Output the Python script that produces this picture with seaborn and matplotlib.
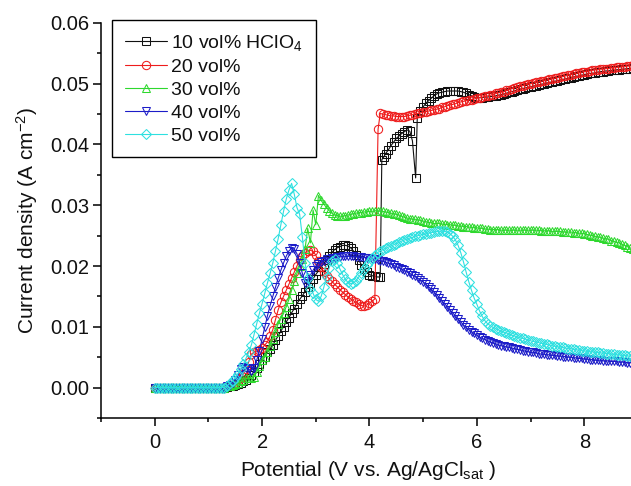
import matplotlib
matplotlib.use("Agg")
import matplotlib.pyplot as plt
import seaborn as sns
import pandas as pd

# Potential grid shared by the smooth curves (V vs. Ag/AgCl_sat), 0.05 V steps
potential = [
    0.00, 0.05, 0.10, 0.15, 0.20, 0.25, 0.30, 0.35, 0.40, 0.45,
    0.50, 0.55, 0.60, 0.65, 0.70, 0.75, 0.80, 0.85, 0.90, 0.95,
    1.00, 1.05, 1.10, 1.15, 1.20, 1.25, 1.30, 1.35, 1.40, 1.45,
    1.50, 1.55, 1.60, 1.65, 1.70, 1.75, 1.80, 1.85, 1.90, 1.95,
    2.00, 2.05, 2.10, 2.15, 2.20, 2.25, 2.30, 2.35, 2.40, 2.45,
    2.50, 2.55, 2.60, 2.65, 2.70, 2.75, 2.80, 2.85, 2.90, 2.95,
    3.00, 3.05, 3.10, 3.15, 3.20, 3.25, 3.30, 3.35, 3.40, 3.45,
    3.50, 3.55, 3.60, 3.65, 3.70, 3.75, 3.80, 3.85, 3.90, 3.95,
    4.00, 4.05, 4.10, 4.15, 4.20, 4.25, 4.30, 4.35, 4.40, 4.45,
    4.50, 4.55, 4.60, 4.65, 4.70, 4.75, 4.80, 4.85, 4.90, 4.95,
    5.00, 5.05, 5.10, 5.15, 5.20, 5.25, 5.30, 5.35, 5.40, 5.45,
    5.50, 5.55, 5.60, 5.65, 5.70, 5.75, 5.80, 5.85, 5.90, 5.95,
    6.00, 6.05, 6.10, 6.15, 6.20, 6.25, 6.30, 6.35, 6.40, 6.45,
    6.50, 6.55, 6.60, 6.65, 6.70, 6.75, 6.80, 6.85, 6.90, 6.95,
    7.00, 7.05, 7.10, 7.15, 7.20, 7.25, 7.30, 7.35, 7.40, 7.45,
    7.50, 7.55, 7.60, 7.65, 7.70, 7.75, 7.80, 7.85, 7.90, 7.95,
    8.00, 8.05, 8.10, 8.15, 8.20, 8.25, 8.30, 8.35, 8.40, 8.45,
    8.50, 8.55, 8.60, 8.65, 8.70, 8.75, 8.80, 8.85, 8.90,
]

# 10 vol% HClO4: own potential list (sudden jumps near 4.2 V and 4.9 V)
potential_10 = [
    0.00, 0.05, 0.10, 0.15, 0.20, 0.25, 0.30, 0.35, 0.40, 0.45,
    0.50, 0.55, 0.60, 0.65, 0.70, 0.75, 0.80, 0.85, 0.90, 0.95,
    1.00, 1.05, 1.10, 1.15, 1.20, 1.25, 1.30, 1.35, 1.40, 1.45,
    1.50, 1.55, 1.60, 1.65, 1.70, 1.75, 1.80, 1.85, 1.90, 1.95,
    2.00, 2.05, 2.10, 2.15, 2.20, 2.25, 2.30, 2.35, 2.40, 2.45,
    2.50, 2.55, 2.60, 2.65, 2.70, 2.75, 2.80, 2.85, 2.90, 2.95,
    3.00, 3.05, 3.10, 3.15, 3.20, 3.25, 3.30, 3.35, 3.40, 3.45,
    3.50, 3.55, 3.60, 3.65, 3.70, 3.75, 3.80, 3.85, 3.90, 3.95,
    4.00, 4.05, 4.10, 4.15, 4.20, 4.23, 4.27, 4.30, 4.35, 4.40, 4.45,
    4.50, 4.55, 4.60, 4.65, 4.70, 4.75, 4.80, 4.86, 4.89, 4.95,
    5.00, 5.05, 5.10, 5.15, 5.20, 5.25, 5.30, 5.35, 5.40, 5.45,
    5.50, 5.55, 5.60, 5.65, 5.70, 5.75, 5.80, 5.85, 5.90, 5.95,
    6.00, 6.05, 6.10, 6.15, 6.20, 6.25, 6.30, 6.35, 6.40, 6.45,
    6.50, 6.55, 6.60, 6.65, 6.70, 6.75, 6.80, 6.85, 6.90, 6.95,
    7.00, 7.05, 7.10, 7.15, 7.20, 7.25, 7.30, 7.35, 7.40, 7.45,
    7.50, 7.55, 7.60, 7.65, 7.70, 7.75, 7.80, 7.85, 7.90, 7.95,
    8.00, 8.05, 8.10, 8.15, 8.20, 8.25, 8.30, 8.35, 8.40, 8.45,
    8.50, 8.55, 8.60, 8.65, 8.70, 8.75, 8.80, 8.85, 8.90,
]
current_10 = [
    0, 0, 0, 0, 0, 0, 0, 0, 0, 0,
    0, 0, 0, 0, 0, 0, 0, 0, 0, 0,
    0, 0, 0, 0, 0, 0, 0, 0.0001, 0.0002, 0.0003,
    0.0005, 0.0006, 0.0008, 0.0010, 0.0012, 0.0016, 0.0020, 0.0026, 0.0032, 0.0038,
    0.0045, 0.0051, 0.0058, 0.0064, 0.0070, 0.0078, 0.0085, 0.0093, 0.0100, 0.0108,
    0.0115, 0.0123, 0.0130, 0.0138, 0.0145, 0.0151, 0.0158, 0.0165, 0.0172, 0.0179,
    0.0186, 0.0192, 0.0198, 0.0204, 0.0210, 0.0216, 0.0222, 0.0227, 0.0230, 0.0232,
    0.0234, 0.0234, 0.0233, 0.0230, 0.0225, 0.0218, 0.0210, 0.0202, 0.0195, 0.0190,
    0.0186, 0.0184, 0.0183, 0.0182, 0.0182, 0.0375, 0.0380, 0.0385, 0.0391, 0.0398, 0.0404,
    0.0410, 0.0414, 0.0418, 0.0421, 0.0424, 0.0422, 0.0406, 0.0345, 0.0444, 0.0455,
    0.0462, 0.0468, 0.0472, 0.0476, 0.0480, 0.0483, 0.0485, 0.0486, 0.0487, 0.0488,
    0.0488, 0.0488, 0.0488, 0.0488, 0.0487, 0.0486, 0.0484, 0.0482, 0.0480, 0.0478,
    0.0477, 0.0477, 0.0477, 0.0478, 0.0478, 0.0479, 0.0479, 0.0480, 0.0481, 0.0482,
    0.0483, 0.0484, 0.0486, 0.0487, 0.0488, 0.0490, 0.0491, 0.0492, 0.0493, 0.0494,
    0.0495, 0.0496, 0.0497, 0.0498, 0.0499, 0.0500, 0.0501, 0.0502, 0.0503, 0.0504,
    0.0505, 0.0506, 0.0507, 0.0508, 0.0509, 0.0510, 0.0511, 0.0512, 0.0513, 0.0514,
    0.0515, 0.0516, 0.0517, 0.0517, 0.0518, 0.0519, 0.0520, 0.0520, 0.0521, 0.0521,
    0.0522, 0.0522, 0.0523, 0.0523, 0.0524, 0.0524, 0.0525, 0.0525, 0.0526,
]

# 20 vol%: own potential list (jump near 4.16 V)
potential_20 = [
    0.00, 0.05, 0.10, 0.15, 0.20, 0.25, 0.30, 0.35, 0.40, 0.45,
    0.50, 0.55, 0.60, 0.65, 0.70, 0.75, 0.80, 0.85, 0.90, 0.95,
    1.00, 1.05, 1.10, 1.15, 1.20, 1.25, 1.30, 1.35, 1.40, 1.45,
    1.50, 1.55, 1.60, 1.65, 1.70, 1.75, 1.80, 1.85, 1.90, 1.95,
    2.00, 2.05, 2.10, 2.15, 2.20, 2.25, 2.30, 2.35, 2.40, 2.45,
    2.50, 2.55, 2.60, 2.65, 2.70, 2.75, 2.80, 2.85, 2.90, 2.95,
    3.00, 3.05, 3.10, 3.15, 3.20, 3.25, 3.30, 3.35, 3.40, 3.45,
    3.50, 3.55, 3.60, 3.65, 3.70, 3.75, 3.80, 3.85, 3.90, 3.95,
    4.00, 4.05, 4.10, 4.16, 4.20, 4.25, 4.30, 4.35, 4.40, 4.45,
    4.50, 4.55, 4.60, 4.65, 4.70, 4.75, 4.80, 4.85, 4.90, 4.95,
    5.00, 5.05, 5.10, 5.15, 5.20, 5.25, 5.30, 5.35, 5.40, 5.45,
    5.50, 5.55, 5.60, 5.65, 5.70, 5.75, 5.80, 5.85, 5.90, 5.95,
    6.00, 6.05, 6.10, 6.15, 6.20, 6.25, 6.30, 6.35, 6.40, 6.45,
    6.50, 6.55, 6.60, 6.65, 6.70, 6.75, 6.80, 6.85, 6.90, 6.95,
    7.00, 7.05, 7.10, 7.15, 7.20, 7.25, 7.30, 7.35, 7.40, 7.45,
    7.50, 7.55, 7.60, 7.65, 7.70, 7.75, 7.80, 7.85, 7.90, 7.95,
    8.00, 8.05, 8.10, 8.15, 8.20, 8.25, 8.30, 8.35, 8.40, 8.45,
    8.50, 8.55, 8.60, 8.65, 8.70, 8.75, 8.80, 8.85, 8.90,
]
current_20 = [
    0, 0, 0, 0, 0, 0, 0, 0, 0, 0,
    0, 0, 0, 0, 0, 0, 0, 0, 0, 0,
    0, 0, 0, 0, 0, 0, 0, 0.0002, 0.0003, 0.0005,
    0.0008, 0.0011, 0.0015, 0.0022, 0.0030, 0.0042, 0.0055, 0.0058, 0.0060, 0.0062,
    0.0065, 0.0070, 0.0075, 0.0085, 0.0095, 0.0112, 0.0128, 0.0140, 0.0150, 0.0160,
    0.0170, 0.0180, 0.0190, 0.0200, 0.0210, 0.0217, 0.0222, 0.0225, 0.0226, 0.0224,
    0.0218, 0.0208, 0.0198, 0.0190, 0.0184, 0.0179, 0.0175, 0.0170, 0.0166, 0.0161,
    0.0157, 0.0153, 0.0149, 0.0146, 0.0143, 0.0140, 0.0137, 0.0135, 0.0134, 0.0136,
    0.0139, 0.0142, 0.0146, 0.0425, 0.0451, 0.0450, 0.0449, 0.0448, 0.0447, 0.0447,
    0.0446, 0.0446, 0.0446, 0.0446, 0.0447, 0.0448, 0.0449, 0.0450, 0.0451, 0.0452,
    0.0453, 0.0454, 0.0455, 0.0456, 0.0457, 0.0458, 0.0459, 0.0461, 0.0462, 0.0464,
    0.0465, 0.0466, 0.0467, 0.0469, 0.0470, 0.0471, 0.0472, 0.0473, 0.0474, 0.0475,
    0.0476, 0.0477, 0.0478, 0.0479, 0.0480, 0.0481, 0.0482, 0.0484, 0.0485, 0.0486,
    0.0487, 0.0489, 0.0490, 0.0492, 0.0493, 0.0495, 0.0496, 0.0497, 0.0498, 0.0499,
    0.0500, 0.0501, 0.0502, 0.0503, 0.0504, 0.0505, 0.0506, 0.0507, 0.0508, 0.0509,
    0.0510, 0.0511, 0.0512, 0.0513, 0.0514, 0.0515, 0.0516, 0.0517, 0.0518, 0.0519,
    0.0520, 0.0520, 0.0521, 0.0522, 0.0523, 0.0523, 0.0524, 0.0524, 0.0525, 0.0525,
    0.0526, 0.0526, 0.0527, 0.0527, 0.0528, 0.0528, 0.0529, 0.0529, 0.0530,
]

# 30 vol%
current_30 = [
    0, 0, 0, 0, 0, 0, 0, 0, 0, 0,
    0, 0, 0, 0, 0, 0, 0, 0, 0, 0,
    0, 0, 0, 0, 0, 0, 0, 0.0002, 0.0003, 0.0004,
    0.0006, 0.0008, 0.0010, 0.0012, 0.0015, 0.0016, 0.0015, 0.0018, 0.0025, 0.0035,
    0.0045, 0.0050, 0.0058, 0.0068, 0.0080, 0.0092, 0.0105, 0.0113, 0.0122, 0.0133,
    0.0145, 0.0160, 0.0175, 0.0188, 0.0200, 0.0212, 0.0228, 0.0262, 0.0238, 0.0292,
    0.0268, 0.0316, 0.0308, 0.0302, 0.0296, 0.0291, 0.0287, 0.0284, 0.0283, 0.0282,
    0.0282, 0.0283, 0.0284, 0.0285, 0.0286, 0.0287, 0.0288, 0.0288, 0.0289, 0.0289,
    0.0290, 0.0290, 0.0291, 0.0291, 0.0290, 0.0290, 0.0289, 0.0288, 0.0287, 0.0286,
    0.0285, 0.0284, 0.0282, 0.0280, 0.0279, 0.0278, 0.0277, 0.0277, 0.0276, 0.0275,
    0.0274, 0.0273, 0.0272, 0.0271, 0.0270, 0.0270, 0.0270, 0.0269, 0.0269, 0.0268,
    0.0268, 0.0267, 0.0267, 0.0266, 0.0266, 0.0265, 0.0265, 0.0264, 0.0264, 0.0263,
    0.0263, 0.0262, 0.0262, 0.0261, 0.0261, 0.0260, 0.0260, 0.0260, 0.0260, 0.0259,
    0.0259, 0.0259, 0.0259, 0.0259, 0.0259, 0.0259, 0.0259, 0.0259, 0.0259, 0.0259,
    0.0259, 0.0259, 0.0259, 0.0259, 0.0258, 0.0258, 0.0258, 0.0258, 0.0257, 0.0257,
    0.0257, 0.0257, 0.0256, 0.0256, 0.0256, 0.0256, 0.0255, 0.0255, 0.0254, 0.0254,
    0.0253, 0.0252, 0.0251, 0.0250, 0.0249, 0.0248, 0.0247, 0.0246, 0.0245, 0.0244,
    0.0242, 0.0241, 0.0239, 0.0238, 0.0236, 0.0234, 0.0232, 0.0230, 0.0228,
]

# 40 vol%
current_40 = [
    0, 0, 0, 0, 0, 0, 0, 0, 0, 0,
    0, 0, 0, 0, 0, 0, 0, 0, 0, 0,
    0, 0, 0, 0, 0, 0, 0, 0.0003, 0.0005, 0.0008,
    0.0012, 0.0020, 0.0030, 0.0034, 0.0033, 0.0030, 0.0028, 0.0033, 0.0045, 0.0060,
    0.0080, 0.0099, 0.0118, 0.0135, 0.0150, 0.0165, 0.0180, 0.0193, 0.0205, 0.0216,
    0.0225, 0.0229, 0.0228, 0.0220, 0.0205, 0.0188, 0.0172, 0.0176, 0.0185, 0.0193,
    0.0200, 0.0204, 0.0207, 0.0209, 0.0211, 0.0212, 0.0213, 0.0214, 0.0215, 0.0215,
    0.0216, 0.0216, 0.0216, 0.0216, 0.0216, 0.0215, 0.0215, 0.0215, 0.0214, 0.0214,
    0.0213, 0.0212, 0.0211, 0.0210, 0.0209, 0.0208, 0.0206, 0.0205, 0.0203, 0.0201,
    0.0199, 0.0197, 0.0195, 0.0193, 0.0190, 0.0188, 0.0185, 0.0183, 0.0180, 0.0177,
    0.0174, 0.0170, 0.0166, 0.0162, 0.0158, 0.0153, 0.0148, 0.0143, 0.0138, 0.0133,
    0.0128, 0.0123, 0.0118, 0.0113, 0.0108, 0.0103, 0.0099, 0.0095, 0.0092, 0.0089,
    0.0086, 0.0083, 0.0081, 0.0079, 0.0077, 0.0075, 0.0073, 0.0072, 0.0070, 0.0069,
    0.0068, 0.0067, 0.0066, 0.0065, 0.0064, 0.0063, 0.0062, 0.0061, 0.0060, 0.0059,
    0.0058, 0.0058, 0.0057, 0.0056, 0.0055, 0.0055, 0.0054, 0.0054, 0.0053, 0.0053,
    0.0052, 0.0052, 0.0051, 0.0051, 0.0050, 0.0050, 0.0049, 0.0049, 0.0048, 0.0048,
    0.0047, 0.0047, 0.0046, 0.0046, 0.0045, 0.0045, 0.0045, 0.0044, 0.0044, 0.0044,
    0.0043, 0.0043, 0.0043, 0.0042, 0.0042, 0.0042, 0.0041, 0.0041, 0.0041,
]

# 50 vol%
current_50 = [
    0, 0, 0, 0, 0, 0, 0, 0, 0, 0,
    0, 0, 0, 0, 0, 0, 0, 0, 0, 0,
    0, 0, 0, 0, 0, 0, 0, 0.0003, 0.0007, 0.0011,
    0.0016, 0.0023, 0.0030, 0.0038, 0.0048, 0.0058, 0.0070, 0.0087, 0.0105, 0.0122,
    0.0138, 0.0155, 0.0172, 0.0188, 0.0205, 0.0225, 0.0245, 0.0268, 0.0290, 0.0310,
    0.0325, 0.0336, 0.0318, 0.0296, 0.0285, 0.0248, 0.0205, 0.0180, 0.0163, 0.0155,
    0.0145, 0.0142, 0.0150, 0.0165, 0.0182, 0.0197, 0.0208, 0.0212, 0.0205, 0.0195,
    0.0186, 0.0178, 0.0173, 0.0171, 0.0172, 0.0176, 0.0182, 0.0188, 0.0195, 0.0201,
    0.0207, 0.0213, 0.0218, 0.0222, 0.0225, 0.0227, 0.0229, 0.0231, 0.0233, 0.0235,
    0.0237, 0.0239, 0.0241, 0.0243, 0.0244, 0.0246, 0.0247, 0.0249, 0.0250, 0.0251,
    0.0252, 0.0253, 0.0254, 0.0255, 0.0256, 0.0257, 0.0257, 0.0258, 0.0257, 0.0256,
    0.0253, 0.0249, 0.0243, 0.0234, 0.0222, 0.0207, 0.0190, 0.0174, 0.0160, 0.0147,
    0.0137, 0.0126, 0.0117, 0.0110, 0.0105, 0.0102, 0.0099, 0.0097, 0.0095, 0.0093,
    0.0091, 0.0090, 0.0088, 0.0086, 0.0085, 0.0083, 0.0082, 0.0081, 0.0080, 0.0078,
    0.0077, 0.0076, 0.0075, 0.0074, 0.0073, 0.0072, 0.0071, 0.0070, 0.0069, 0.0068,
    0.0067, 0.0067, 0.0066, 0.0065, 0.0064, 0.0064, 0.0063, 0.0062, 0.0062, 0.0061,
    0.0060, 0.0060, 0.0059, 0.0059, 0.0058, 0.0058, 0.0057, 0.0057, 0.0056, 0.0056,
    0.0055, 0.0055, 0.0054, 0.0054, 0.0053, 0.0053, 0.0052, 0.0052, 0.0051,
]

labels = ["10 vol% HClO$_4$", "20 vol%", "30 vol%", "40 vol%", "50 vol%"]
colors = ["#111111", "#ee1c1c", "#2ed82e", "#1c1cc8", "#2ee0e0"]
markers = ["s", "o", "^", "v", "D"]
marker_sizes = [5.6, 6.0, 6.0, 6.0, 5.2]

series = [
    (potential_10, current_10),
    (potential_20, current_20),
    (potential, current_30),
    (potential, current_40),
    (potential, current_50),
]

sns.set_theme(style="white")
plt.rcParams["font.family"] = ["Liberation Sans", "DejaVu Sans"]
plt.rcParams["mathtext.fontset"] = "custom"
plt.rcParams["mathtext.rm"] = "Liberation Sans"
plt.rcParams["mathtext.it"] = "Liberation Sans:italic"
plt.rcParams["mathtext.bf"] = "Liberation Sans:bold"

fig = plt.figure(figsize=(6.31, 4.86), dpi=100)
ax = fig.add_axes([0.160, 0.140, 0.840, 0.8128])

for (xs, ys), lab, col, mk, ms in zip(series, labels, colors, markers, marker_sizes):
    df = pd.DataFrame({"Potential": xs, "Current": ys})
    sns.lineplot(
        data=df, x="Potential", y="Current", ax=ax,
        sort=False, estimator=None, color=col, label=lab,
        marker=mk, markersize=ms, markerfacecolor="none",
        markeredgecolor=col, markeredgewidth=0.75, linewidth=0.8,
    )

ax.set_xlim(-1.0, 8.87)
ax.set_ylim(-0.005, 0.06)
ax.set_xticks([0, 2, 4, 6, 8])
ax.set_xticks([-1, 1, 3, 5, 7], minor=True)
ax.set_yticks([0.00, 0.01, 0.02, 0.03, 0.04, 0.05, 0.06])
ax.set_yticks([-0.005, 0.005, 0.015, 0.025, 0.035, 0.045, 0.055], minor=True)
ax.set_yticklabels(["0.00", "0.01", "0.02", "0.03", "0.04", "0.05", "0.06"])

for side in ("top", "right"):
    ax.spines[side].set_visible(False)
for side in ("left", "bottom"):
    ax.spines[side].set_color("black")
    ax.spines[side].set_linewidth(1.1)

ax.tick_params(axis="both", which="major", direction="out", length=5.5,
               width=1.1, color="black", labelsize=14.5, pad=3,
               labelcolor="#111111", bottom=True, left=True)
ax.tick_params(axis="both", which="minor", direction="out", length=3.2,
               width=1.1, color="black", bottom=True, left=True)
ax.tick_params(axis="x", which="major", pad=5)

ax.set_xlabel("Potential (V vs. Ag/AgCl$_{\\mathrm{sat}}$ )", fontsize=15,
              color="#111111")
ax.set_ylabel("Current density (A cm$^{-2}$)", fontsize=15,
              color="#111111", labelpad=7)
ax.xaxis.set_label_coords(0.505, -0.105)
ax.grid(False)

leg = ax.legend(
    loc="upper left", bbox_to_anchor=(112 / 631, 1 - 20 / 486),
    bbox_transform=fig.transFigure, fontsize=14, frameon=True, fancybox=False,
    framealpha=1.0, edgecolor="black", handlelength=2.2, handletextpad=0.2,
    borderpad=0.65, labelspacing=0.28, numpoints=1, borderaxespad=0.0,
)
leg.get_frame().set_linewidth(1.0)
for txt in leg.get_texts():
    txt.set_color("#111111")

fig.savefig("out.png", dpi=100, facecolor="white")
